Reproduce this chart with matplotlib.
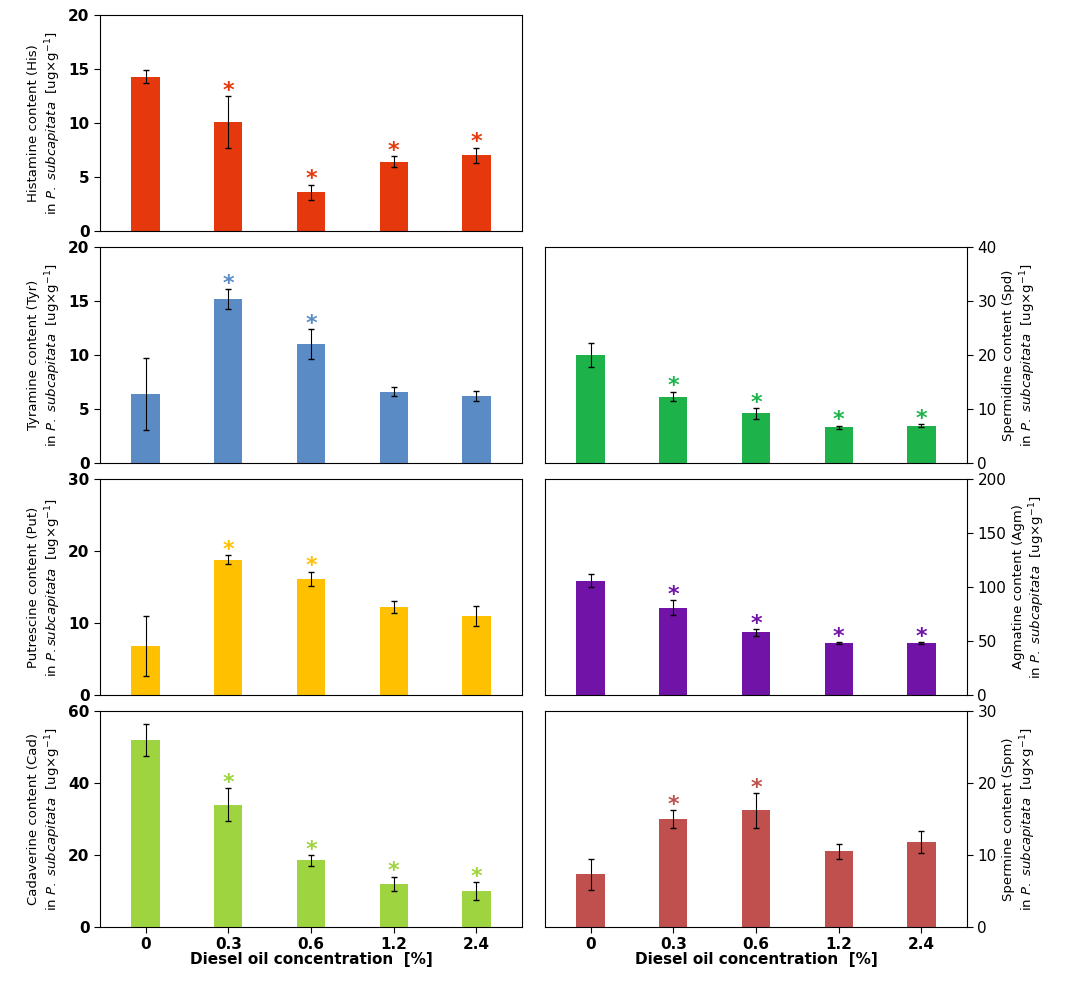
import numpy as np
import matplotlib.pyplot as plt

conc = ["0", "0.3", "0.6", "1.2", "2.4"]

his = [14.3, 10.1, 3.6, 6.4, 7.0]
his_err = [0.6, 2.4, 0.7, 0.5, 0.7]
tyr = [6.4, 15.2, 11.0, 6.6, 6.2]
tyr_err = [3.3, 0.9, 1.4, 0.4, 0.5]
put = [6.8, 18.8, 16.1, 12.2, 11.0]
put_err = [4.2, 0.6, 1.0, 0.8, 1.4]
cad = [52.0, 34.0, 18.5, 12.0, 10.0]
cad_err = [4.5, 4.5, 1.5, 2.0, 2.5]
spd = [20.0, 12.3, 9.2, 6.6, 6.9]
spd_err = [2.3, 0.9, 1.0, 0.3, 0.3]
agm = [106, 81, 58, 48, 48]
agm_err = [6, 7, 3, 1, 1]
spm = [7.3, 15.0, 16.2, 10.5, 11.8]
spm_err = [2.2, 1.2, 2.4, 1.0, 1.5]

panels = [
    # (row, col, values, errors, stars, ymax, step, color, label, species)
    (0, 0, his, his_err, [1, 2, 3, 4], 20, 5, "#E5390D", "Histamine content (His)", "P.\\ subcapitata"),
    (1, 0, tyr, tyr_err, [1, 2], 20, 5, "#5B8BC5", "Tyramine content (Tyr)", "P.\\ subcapitata"),
    (2, 0, put, put_err, [1, 2], 30, 10, "#FFC000", "Putrescine content (Put)", "P.subcapitata"),
    (3, 0, cad, cad_err, [1, 2, 3, 4], 60, 20, "#9ED43F", "Cadaverine content (Cad)", "P.\\ subcapitata"),
    (1, 1, spd, spd_err, [1, 2, 3, 4], 40, 10, "#1DB34A", "Spermidine content (Spd)", "P.\\ subcapitata"),
    (2, 1, agm, agm_err, [1, 2, 3, 4], 200, 50, "#7013A6", "Agmatine content (Agm)", "P.\\ subcapitata"),
    (3, 1, spm, spm_err, [1, 2], 30, 10, "#C0504D", "Spermine content (Spm)", "P.\\ subcapitata"),
]

fig = plt.figure(figsize=(10.74, 9.86), dpi=100)
W, H = 1074, 986
lefts = [100, 545]
tops = [15, 247, 479, 711]
aw, ah = 422, 216

x = np.arange(len(conc))
for row, col, vals, errs, stars, ymax, step, color, label, sp in panels:
    ax = fig.add_axes([lefts[col] / W, 1 - (tops[row] + ah) / H, aw / W, ah / H])
    ax.bar(x, vals, width=0.34, color=color, yerr=errs,
           error_kw=dict(ecolor="black", elinewidth=0.8, capsize=2))
    for i in stars:
        ax.text(x[i], vals[i] + errs[i] + ymax * 0.025, "*", color=color,
                ha="center", va="center", fontsize=16, fontweight="bold")
    ax.set_xlim(-0.55, 4.55)
    ax.set_ylim(0, ymax)
    ax.set_yticks(np.arange(0, ymax + 1, step))
    ax.tick_params(labelsize=11, direction="out", length=4)
    for t in ax.get_yticklabels():
        t.set_fontweight("bold")
    ax.set_ylabel(label + "\nin $\\it{" + sp + "}$  [ug×g$^{-1}$]", fontsize=9.5)
    if col == 1:
        ax.yaxis.tick_right()
        ax.yaxis.set_label_position("right")
    ax.set_xticks(x)
    if row == 3:
        ax.set_xticklabels(conc, fontsize=11, fontweight="bold")
        ax.set_xlabel("Diesel oil concentration  [%]", fontsize=11, fontweight="bold", labelpad=0)
    else:
        ax.set_xticklabels([])
        ax.tick_params(axis="x", length=0)

fig.savefig("out.png", dpi=100)
